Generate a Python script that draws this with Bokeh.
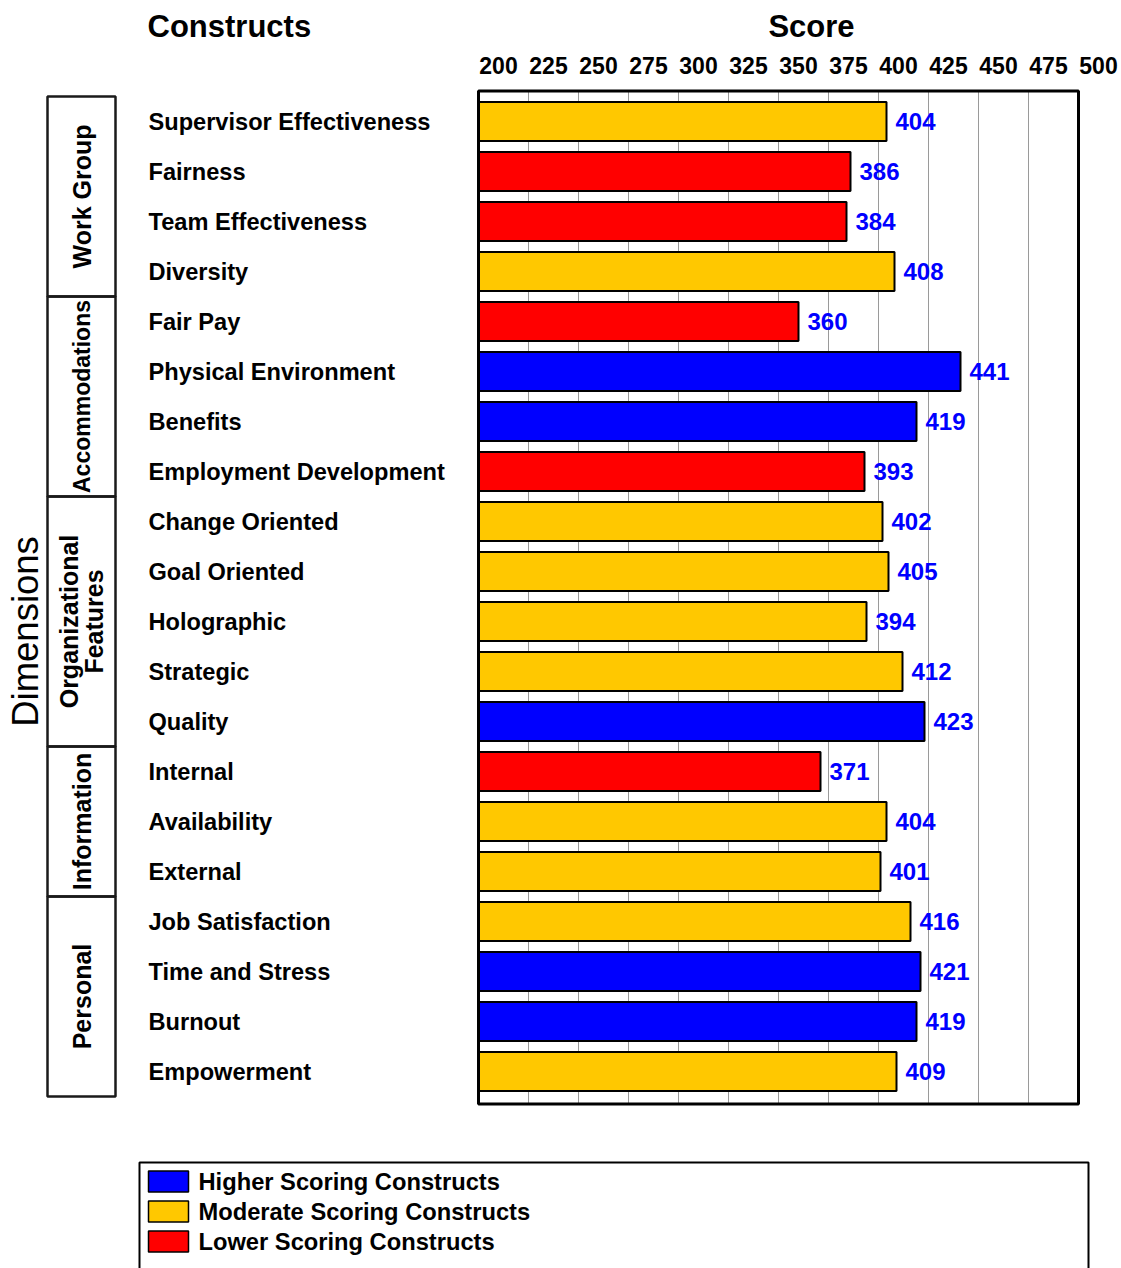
import math
from bokeh.plotting import figure
from bokeh.models import Range1d, ColumnDataSource
from bokeh.core.properties import value
from bokeh.embed import file_html
from bokeh.resources import INLINE

# ---------------- data ----------------
constructs = ["Supervisor Effectiveness", "Fairness", "Team Effectiveness", "Diversity",
              "Fair Pay", "Physical Environment", "Benefits", "Employment Development",
              "Change Oriented", "Goal Oriented", "Holographic", "Strategic", "Quality",
              "Internal", "Availability", "External",
              "Job Satisfaction", "Time and Stress", "Burnout", "Empowerment"]
scores = [404, 386, 384, 408, 360, 441, 419, 393, 402, 405, 394, 412, 423,
          371, 404, 401, 416, 421, 419, 409]
levels = ["Moderate", "Lower", "Lower", "Moderate", "Lower", "Higher", "Higher", "Lower",
          "Moderate", "Moderate", "Moderate", "Moderate", "Higher", "Lower", "Moderate",
          "Moderate", "Moderate", "Higher", "Higher", "Moderate"]
dimensions = ["Work Group", "Accommodations", "Organizational\nFeatures", "Information", "Personal"]
dimension_sizes = [4, 4, 5, 3, 4]
score_ticks = [200, 225, 250, 275, 300, 325, 350, 375, 400, 425, 450, 475, 500]
legend_levels = ["Higher", "Moderate", "Lower"]
legend_labels = ["Higher Scoring Constructs", "Moderate Scoring Constructs", "Lower Scoring Constructs"]

# ---------------- styles ----------------
level_colors = {"Higher": "#0000FF", "Moderate": "#FFC800", "Lower": "#FF0000"}
dimension_font_sizes = ["25px", "23px", "25px", "25px", "25px"]
FONT = value("Liberation Sans")

W, H = 1121, 1268
X0_PX, PX_PER_UNIT = 478, 2.0     # score 200 sits at pixel 478
Y0_PX, PX_PER_ROW = 121, 50.0     # row 0 centre at pixel 121

x_start = 200 - X0_PX / PX_PER_UNIT
x_end = x_start + W / PX_PER_UNIT
y_top = -Y0_PX / PX_PER_ROW
y_bottom = y_top + H / PX_PER_ROW

p = figure(width=W, height=H, output_backend="svg", toolbar_location=None,
           x_range=Range1d(x_start, x_end), y_range=Range1d(y_bottom, y_top),
           x_axis_type=None, y_axis_type=None, min_border=0,
           background_fill_color="white", border_fill_color="white")
p.outline_line_color = None
p.grid.visible = False

n = len(constructs)
rows = list(range(n))
frame_top, frame_bottom = -0.61, n - 1 + 0.65
xmin, xmax = score_ticks[0], score_ticks[-1]

# gridlines
inner = score_ticks[1:-1]
p.segment(x0=inner, x1=inner, y0=[frame_top] * len(inner), y1=[frame_bottom] * len(inner),
          line_color="#9a9a9a", line_width=1)

# bars
src = ColumnDataSource(dict(y=rows, right=scores, name=constructs,
                            color=[level_colors[l] for l in levels],
                            label=[str(s) for s in scores]))
p.hbar(y="y", left=xmin, right="right", height=0.78, fill_color="color",
       line_color="black", line_width=2, source=src)

# frame
p.quad(left=[xmin], right=[xmax], top=[frame_top], bottom=[frame_bottom],
       fill_color=None, line_color="black", line_width=3)

# value labels
p.text(x="right", y="y", text="label", source=src, x_offset=9,
       text_font=FONT, text_font_style="bold", text_font_size="24px",
       text_color="#0000FF", text_align="left", text_baseline="middle")

# tick labels (centred between gridlines as in original)
p.text(x=score_ticks, y=[-1.12] * len(score_ticks), text=[str(t) for t in score_ticks],
       x_offset=20, text_font=FONT, text_font_style="bold", text_font_size="23px",
       text_color="black", text_align="center", text_baseline="middle")

# headers
p.text(x=[34.5], y=[-1.9], text=["Constructs"], text_font=FONT, text_font_style="bold",
       text_font_size="31px", text_color="black", text_align="left", text_baseline="middle")
p.text(x=[(xmin + xmax) / 2 + 16.5], y=[-1.9], text=["Score"], text_font=FONT,
       text_font_style="bold", text_font_size="31px", text_color="black",
       text_align="center", text_baseline="middle")

# construct labels
p.text(x=[35] * n, y=rows, text=constructs, text_font=FONT, text_font_style="bold",
       text_font_size="23.6px", text_color="black", text_align="left", text_baseline="middle")

# dimension boxes
tops, bottoms, mids = [], [], []
start = 0
for sz in dimension_sizes:
    tops.append(start - 0.5)
    bottoms.append(start + sz - 0.5)
    mids.append(start + (sz - 1) / 2)
    start += sz
box_l, box_r = -15.5, 18.5
p.quad(left=[box_l] * len(tops), right=[box_r] * len(tops), top=tops, bottom=bottoms,
       fill_color=None, line_color="#1a1a1a", line_width=2.5)
dsrc = ColumnDataSource(dict(x=[(box_l + box_r) / 2] * len(mids), y=mids, text=dimensions,
                             size=dimension_font_sizes))
p.text(x="x", y="y", text="text", source=dsrc, angle=math.pi / 2,
       text_font=FONT, text_font_style="bold", text_font_size="size", text_color="black",
       text_align="center", text_baseline="middle", text_line_height=0.9)

p.text(x=[-26.5], y=[10.2], text=["Dimensions"], angle=math.pi / 2, text_font=FONT,
       text_font_size="36.5px", text_color="black", text_align="center", text_baseline="middle")

# legend
p.quad(left=[30.5], right=[505], top=[20.82], bottom=[23.6], fill_color=None,
       line_color="black", line_width=2)
ly = [21.2 + 0.6 * i for i in range(len(legend_levels))]
p.rect(x=[45] * len(ly), y=ly, width=20, height=0.42,
       fill_color=[level_colors[l] for l in legend_levels], line_color="black", line_width=1.5)
p.text(x=[60] * len(ly), y=ly, text=legend_labels, text_font=FONT, text_font_style="bold",
       text_font_size="23.7px", text_color="black", text_align="left", text_baseline="middle")

open("out.html", "w").write(file_html(p, INLINE))
